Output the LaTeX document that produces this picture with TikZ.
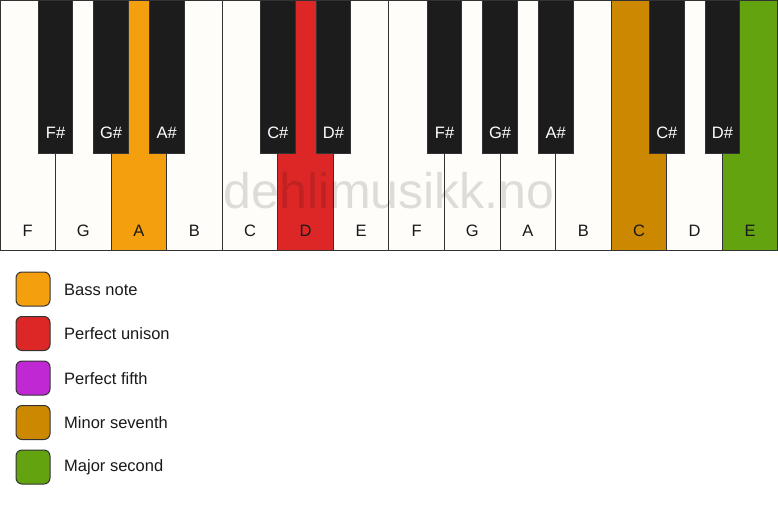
\documentclass[tikz,border=0pt]{standalone}
\usepackage{fontspec}
\setmainfont{Liberation Sans}
\definecolor{keywhite}{RGB}{255,253,250}
\definecolor{keyblack}{RGB}{28,28,28}
\definecolor{keyline}{RGB}{51,51,51}
\definecolor{bassnote}{RGB}{243,159,14}
\definecolor{unison}{RGB}{221,39,39}
\definecolor{fifth}{RGB}{192,40,212}
\definecolor{seventh}{RGB}{204,136,0}
\definecolor{second}{RGB}{99,163,15}
\tikzset{
	keyframe/.style={draw=keyline, line width=1pt},
	whitelabel/.style={font=\fontsize{16.5}{19}\selectfont, text=black!90, inner sep=0pt},
	blacklabel/.style={font=\fontsize{16.5}{19}\selectfont, text=white, inner sep=0pt},
	legendbox/.style={draw=keyline, line width=1pt, rounded corners=6pt},
	legendtext/.style={font=\fontsize{16.5}{19}\selectfont, text=black!90, anchor=west, inner sep=0pt}
}
\def\wk{55.57}
\begin{document}
\begin{tikzpicture}[x=1pt, y=-1pt]
\useasboundingbox (0,0) rectangle (778,506);

% white keys
\foreach \n/\c [count=\i from 0] in {F/keywhite, G/keywhite, A/bassnote, B/keywhite,
	C/keywhite, D/unison, E/keywhite, F/keywhite, G/keywhite, A/keywhite,
	B/keywhite, C/seventh, D/keywhite, E/second} {
	\draw [keyframe, fill=\c] (\i*\wk, 0) rectangle ++(\wk, 250);
	\node [whitelabel] (white\i) at (\i*\wk + \wk/2, 231) {\n};
}

% watermark
\node [font=\fontsize{50}{60}\selectfont, text=black, opacity=0.13,
	anchor=base, inner sep=0pt] (mark) at (389, 208) {dehlimusikk.no};

% black keys
\foreach \b/\n in {1/F\#, 2/G\#, 3/A\#, 5/C\#, 6/D\#,
	8/F\#, 9/G\#, 10/A\#, 12/C\#, 13/D\#} {
	\draw [keyframe, fill=keyblack] (\b*\wk - 17.35, 0) rectangle ++(34.7, 153);
	\node [blacklabel] (black\b) at (\b*\wk, 133) {\n};
}

% legend
\foreach \c/\t [count=\i from 0] in {bassnote/Bass note, unison/Perfect unison,
	fifth/Perfect fifth, seventh/Minor seventh, second/Major second} {
	\draw [legendbox, fill=\c] (16, 272 + \i*44.5) rectangle ++(34, 34);
	\node [legendtext] (legend\i) at (64, 289.5 + \i*44.5) {\t};
}
\end{tikzpicture}
\end{document}
